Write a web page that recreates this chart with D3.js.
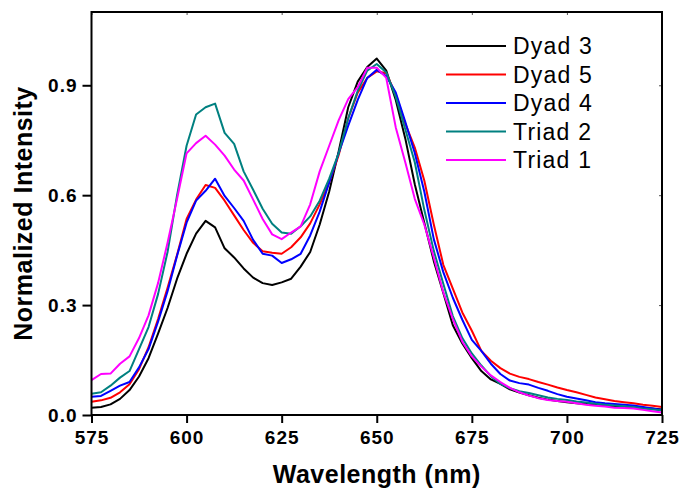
<!DOCTYPE html>
<html>
<head>
<meta charset="utf-8">
<title>Normalized emission spectra</title>
<script src="https://d3js.org/d3.v7.min.js"></script>
<style>
  body { margin: 0; background: #fff; }
  svg { display: block; }
  text { font-family: Arial, "Liberation Sans", sans-serif; }
  .tick-label { font-size: 19px; font-weight: bold; letter-spacing: 1px; }
  .axis-title { font-size: 25px; font-weight: bold; letter-spacing: 0.5px; }
  .legend text { font-size: 23px; letter-spacing: 1.2px; }
  .curve { fill: none; stroke-width: 2px; stroke-linejoin: round; }
</style>
</head>
<body>
<svg width="679" height="492"></svg>
<script>
// wavelength grid (nm)
var wavelength = [575, 577.5, 580, 582.5, 585, 587.5, 590, 592.5, 595, 597.5,
  600, 602.5, 605, 607.5, 610, 612.5, 615, 617.5, 620, 622.5,
  625, 627.5, 630, 632.5, 635, 637.5, 640, 642.5, 645, 647.5,
  650, 652.5, 655, 657.5, 660, 662.5, 665, 667.5, 670, 672.5,
  675, 677.5, 680, 682.5, 685, 687.5, 690, 692.5, 695, 697.5,
  700, 702.5, 705, 707.5, 710, 712.5, 715, 717.5, 720, 722.5, 725];

var dyad3 = [0.020, 0.022, 0.029, 0.044, 0.068, 0.105, 0.155, 0.222, 0.292, 0.372,
  0.440, 0.495, 0.530, 0.512, 0.455, 0.430, 0.400, 0.375, 0.360, 0.355,
  0.362, 0.372, 0.405, 0.445, 0.520, 0.610, 0.720, 0.840, 0.910, 0.950,
  0.973, 0.940, 0.860, 0.755, 0.630, 0.525, 0.420, 0.333, 0.245, 0.195,
  0.155, 0.120, 0.097, 0.085, 0.070, 0.061, 0.054, 0.047, 0.042, 0.038,
  0.035, 0.032, 0.030, 0.028, 0.026, 0.024, 0.022, 0.021, 0.020, 0.018, 0.015];

var dyad5 = [0.036, 0.040, 0.047, 0.062, 0.084, 0.125, 0.185, 0.262, 0.347, 0.437,
  0.535, 0.588, 0.628, 0.620, 0.585, 0.545, 0.505, 0.470, 0.447, 0.443,
  0.440, 0.458, 0.485, 0.523, 0.575, 0.635, 0.710, 0.810, 0.880, 0.920,
  0.938, 0.933, 0.875, 0.795, 0.730, 0.640, 0.520, 0.410, 0.345, 0.280,
  0.230, 0.175, 0.148, 0.128, 0.113, 0.104, 0.098, 0.090, 0.083, 0.075,
  0.068, 0.062, 0.055, 0.048, 0.043, 0.038, 0.035, 0.032, 0.028, 0.025, 0.022];

var dyad4 = [0.050, 0.052, 0.066, 0.080, 0.090, 0.130, 0.180, 0.255, 0.338, 0.435,
  0.525, 0.585, 0.612, 0.645, 0.598, 0.565, 0.530, 0.478, 0.440, 0.435,
  0.415, 0.425, 0.440, 0.490, 0.555, 0.635, 0.715, 0.790, 0.860, 0.920,
  0.942, 0.925, 0.880, 0.800, 0.715, 0.610, 0.480, 0.390, 0.320, 0.260,
  0.205, 0.175, 0.140, 0.112, 0.094, 0.087, 0.083, 0.074, 0.066, 0.057,
  0.050, 0.045, 0.040, 0.035, 0.032, 0.030, 0.028, 0.026, 0.022, 0.018, 0.014];

var triad2 = [0.058, 0.062, 0.080, 0.102, 0.120, 0.180, 0.240, 0.330, 0.445, 0.600,
  0.735, 0.820, 0.840, 0.850, 0.770, 0.740, 0.665, 0.615, 0.563, 0.522,
  0.498, 0.495, 0.515, 0.542, 0.585, 0.645, 0.715, 0.810, 0.885, 0.940,
  0.958, 0.935, 0.868, 0.780, 0.690, 0.560, 0.448, 0.358, 0.270, 0.210,
  0.168, 0.135, 0.106, 0.085, 0.073, 0.065, 0.060, 0.054, 0.048, 0.044,
  0.041, 0.037, 0.034, 0.031, 0.028, 0.026, 0.024, 0.022, 0.018, 0.015, 0.012];

var triad1 = [0.095, 0.112, 0.113, 0.140, 0.160, 0.210, 0.272, 0.360, 0.470, 0.590,
  0.714, 0.742, 0.762, 0.738, 0.708, 0.670, 0.640, 0.588, 0.535, 0.493,
  0.480, 0.498, 0.515, 0.575, 0.665, 0.735, 0.805, 0.862, 0.895, 0.948,
  0.948, 0.920, 0.785, 0.690, 0.590, 0.520, 0.430, 0.335, 0.262, 0.200,
  0.160, 0.132, 0.108, 0.090, 0.074, 0.062, 0.053, 0.046, 0.041, 0.038,
  0.036, 0.032, 0.028, 0.025, 0.023, 0.020, 0.019, 0.018, 0.014, 0.010, 0.007];

var seriesNames = ["Dyad 3", "Dyad 5", "Dyad 4", "Triad 2", "Triad 1"];
var seriesValues = [dyad3, dyad5, dyad4, triad2, triad1];
var seriesColors = ["#000000", "#ff0000", "#0000ff", "#008080", "#ff00ff"];

var xTicks = [575, 600, 625, 650, 675, 700, 725];
var yTicks = [0.0, 0.3, 0.6, 0.9];

// layout (plot box edges)
var svg = d3.select("svg");
var plotL = 91.5, plotR = 662, plotT = 12, plotB = 415;

var x = d3.scaleLinear().domain([575, 725]).range([plotL, plotR]);
var y = d3.scaleLinear().domain([0, 1.1]).range([plotB, plotT]);

// curves
var line = d3.line()
    .x(function (d, i) { return x(wavelength[i]); })
    .y(function (d) { return y(d); });

svg.append("g")
    .selectAll("path")
    .data(seriesValues)
    .enter().append("path")
    .attr("class", "curve")
    .attr("stroke", function (d, i) { return seriesColors[i]; })
    .attr("d", line);

// bottom axis
var xAxis = d3.axisBottom(x).tickValues(xTicks).tickSize(8).tickPadding(7)
    .tickFormat(d3.format("d"));
var gx = svg.append("g").attr("transform", "translate(0," + plotB + ")").call(xAxis);
gx.select(".domain").remove();
gx.selectAll("line").attr("stroke", "#000").attr("stroke-width", 2);
gx.selectAll("text").attr("class", "tick-label").attr("fill", "#000")
    .attr("dy", "0.72em");

// left axis
var yAxis = d3.axisLeft(y).tickValues(yTicks).tickSize(9).tickPadding(5)
    .tickFormat(d3.format(".1f"));
var gy = svg.append("g").attr("transform", "translate(" + plotL + ",0)").call(yAxis);
gy.select(".domain").remove();
gy.selectAll("line").attr("stroke", "#000").attr("stroke-width", 2);
gy.selectAll("text").attr("class", "tick-label").attr("fill", "#000");

// top and right inner ticks
var gt = svg.append("g").attr("transform", "translate(0," + plotT + ")")
    .call(d3.axisBottom(x).tickValues(xTicks).tickSize(3).tickFormat(""));
gt.select(".domain").remove();
gt.selectAll("line").attr("stroke", "#555").attr("stroke-width", 1);

var gr = svg.append("g").attr("transform", "translate(" + plotR + ",0)")
    .call(d3.axisLeft(y).tickValues(yTicks).tickSize(3).tickFormat(""));
gr.select(".domain").remove();
gr.selectAll("line").attr("stroke", "#555").attr("stroke-width", 1);

// frame
svg.append("rect")
    .attr("x", plotL).attr("y", plotT)
    .attr("width", plotR - plotL).attr("height", plotB - plotT)
    .attr("fill", "none").attr("stroke", "#000").attr("stroke-width", 2);

// axis titles
svg.append("text")
    .attr("class", "axis-title")
    .attr("x", (plotL + plotR) / 2).attr("y", 483)
    .attr("text-anchor", "middle")
    .text("Wavelength (nm)");

svg.append("text")
    .attr("class", "axis-title")
    .attr("transform", "translate(32," + (plotT + plotB) / 2 + ") rotate(-90)")
    .attr("text-anchor", "middle")
    .text("Normalized Intensity");

// legend
var legend = svg.append("g").attr("class", "legend")
    .selectAll("g")
    .data(seriesNames)
    .enter().append("g")
    .attr("transform", function (d, i) { return "translate(446," + (46 + i * 28.5) + ")"; });

legend.append("line")
    .attr("x1", 0).attr("x2", 60)
    .attr("stroke", function (d, i) { return seriesColors[i]; })
    .attr("stroke-width", 2);

legend.append("text")
    .attr("x", 67).attr("dy", "0.36em")
    .attr("fill", "#000")
    .text(function (d) { return d; });
</script>
</body>
</html>
